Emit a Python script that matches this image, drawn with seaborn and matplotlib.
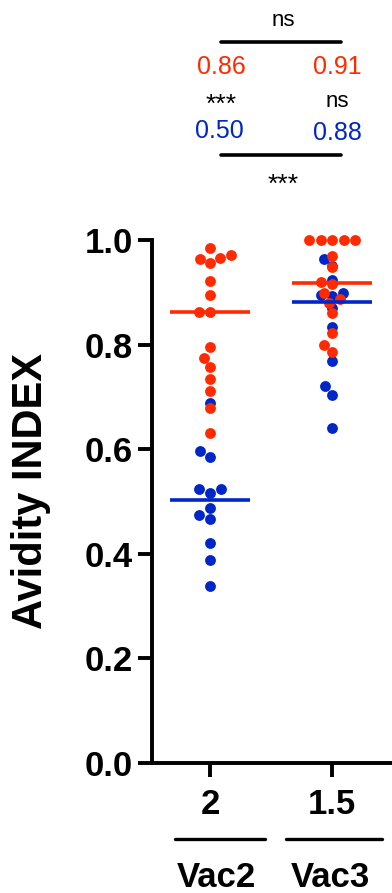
import pandas as pd
import matplotlib.pyplot as plt
import seaborn as sns

# --- data ---
groups = ["2", "1.5"]
group_names = ["Vac2", "Vac3"]

red_vac2 = [0.971, 0.964, 0.956, 0.965, 0.985, 0.922, 0.894, 0.863,
            0.862, 0.796, 0.775, 0.757, 0.735, 0.711, 0.679, 0.631]
red_vac3 = [1.0, 1.0, 1.0, 1.0, 1.0, 0.969, 0.948, 0.919,
            0.916, 0.898, 0.888, 0.880, 0.860, 0.823, 0.799, 0.785]
blue_vac2 = [0.688, 0.596, 0.586, 0.523, 0.517, 0.523,
             0.488, 0.474, 0.467, 0.421, 0.389, 0.338]
blue_vac3 = [0.964, 0.950, 0.924, 0.894, 0.899, 0.892,
             0.870, 0.833, 0.769, 0.720, 0.704, 0.640]

red_medians = ["0.86", "0.91"]
blue_medians = ["0.50", "0.88"]
within_tests = ["***", "ns"]
top_test = "ns"
bottom_test = "***"

RED = "#ff2a00"
BLUE = "#0026c8"

def to_df(v2, v3):
    return pd.DataFrame({"group": [groups[0]] * len(v2) + [groups[1]] * len(v3),
                         "value": v2 + v3})

red_df = to_df(red_vac2, red_vac3)
blue_df = to_df(blue_vac2, blue_vac3)

sns.set_style("ticks", rc={"axes.edgecolor": "black", "text.color": "black",
                           "axes.labelcolor": "black", "xtick.color": "black",
                           "ytick.color": "black"})
plt.rcParams["font.family"] = ["Liberation Sans", "DejaVu Sans"]

fig = plt.figure(figsize=(3.92, 8.93), dpi=100)
ax = fig.add_axes([152 / 392, 130 / 893, 240 / 392, 523 / 893])

# blue first, red drawn on top
for df, col in [(blue_df, BLUE), (red_df, RED)]:
    sns.swarmplot(data=df, x="group", y="value", order=groups, color=col,
                  size=7.8, linewidth=0, ax=ax, clip_on=False, zorder=3)
    sns.boxplot(data=df, x="group", y="value", order=groups, width=0.66,
                showbox=False, showcaps=False, showfliers=False, whis=0,
                whiskerprops={"visible": False},
                medianprops={"color": col, "linewidth": 2.6, "zorder": 4},
                ax=ax)

ax.set_ylim(0, 1.0)
ax.set_xlim(-0.475, 1.49)
ax.set_yticks([0.0, 0.2, 0.4, 0.6, 0.8, 1.0])
ax.set_yticklabels([f"{t:.1f}" for t in ax.get_yticks()])
ax.set_xlabel("")
ax.set_ylabel("Avidity INDEX", fontsize=30, fontweight="bold")
ax.yaxis.set_label_coords(-0.42, 0.52)

sns.despine(ax=ax)
for s in ["left", "bottom"]:
    ax.spines[s].set_linewidth(2.8)
ax.tick_params(axis="both", width=2.8, length=10, labelsize=25, pad=4)
for lab in ax.get_xticklabels() + ax.get_yticklabels():
    lab.set_fontweight("bold")
ax.tick_params(axis="x", pad=8)

# group names under the x ticks
trans = ax.get_xaxis_transform()
bar_spans = [(-0.287, 0.451), (0.623, 1.409)]
name_x = [0.05, 0.984]
for (x0, x1), nx, name in zip(bar_spans, name_x, group_names):
    ax.plot([x0, x1], [-0.146, -0.146], color="black", lw=2.4,
            transform=trans, clip_on=False)
    ax.text(nx, -0.218, name, transform=trans, ha="center",
            va="center", fontsize=25, fontweight="bold")

# significance block above the plot
ax.text(0.6, 1.419, top_test, ha="center", va="center", fontsize=16)
ax.plot([0.09, 1.07], [1.379, 1.379], color="black", lw=2.6, clip_on=False)
ax.text(0.09, 1.331, red_medians[0], color=RED, ha="center", va="center", fontsize=18)
ax.text(1.04, 1.331, red_medians[1], color=RED, ha="center", va="center", fontsize=18)
ax.text(0.09, 1.258, within_tests[0], ha="center", va="center", fontsize=19)
ax.text(1.04, 1.265, within_tests[1], ha="center", va="center", fontsize=16)
ax.text(0.08, 1.208, blue_medians[0], color=BLUE, ha="center", va="center", fontsize=18)
ax.text(1.04, 1.205, blue_medians[1], color=BLUE, ha="center", va="center", fontsize=18)
ax.plot([0.09, 1.07], [1.163, 1.163], color="black", lw=2.6, clip_on=False)
ax.text(0.6, 1.105, bottom_test, ha="center", va="center", fontsize=19)

fig.savefig("out.png", dpi=100)
